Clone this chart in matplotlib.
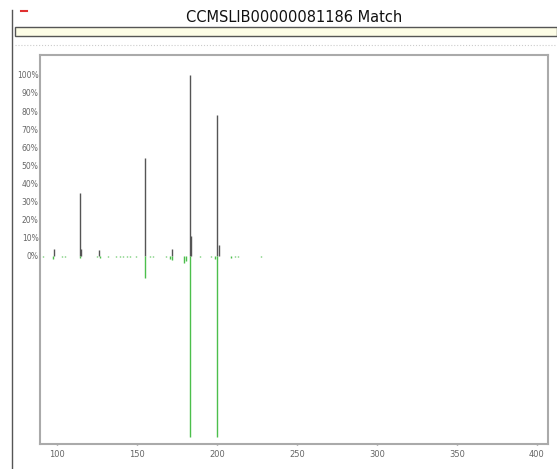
import numpy as np
import matplotlib
matplotlib.use("Agg")
import matplotlib.pyplot as plt
from matplotlib.patches import Rectangle
from matplotlib.lines import Line2D

title = "CCMSLIB00000081186 Match"

# top spectrum (query), m/z and relative intensity in %
top_mz = [98.1, 114.5, 115.0, 126.4, 155.1, 172.2, 183.4, 184.0, 200.2, 201.2]
top_int = [4, 34.5, 4, 3, 54, 3.7, 100, 11, 78, 6]

# bottom spectrum (library match), drawn downwards
bot_mz = [91.5, 97.7, 103.3, 105.0, 114.4, 125.1, 126.8, 132.0, 136.8,
          139.5, 141.4, 143.5, 145.7, 149.7, 155.1, 158.0, 160.1, 168.0,
          170.5, 172.2, 179.3, 180.5, 183.4, 189.2, 196.5, 199.0, 200.2,
          209.0, 211.0, 213.0, 227.7]
bot_int = [0.8, 2, 0.6, 0.6, 1.2, 0.8, 1.2, 0.6, 0.6,
           0.6, 0.6, 0.6, 0.6, 0.6, 12, 0.6, 0.6, 0.6,
           1.5, 2.5, 4, 3, 100, 0.6, 0.6, 1.5, 100,
           1, 0.8, 0.8, 0.8]

yticks = list(range(0, 101, 10))
xticks = [100, 150, 200, 250, 300, 350, 400]

W, H = 557, 469
fig = plt.figure(figsize=(W / 100, H / 100), dpi=100)

# page decorations
fig.add_artist(Line2D([12 / W, 12 / W], [0, 1 - 10 / H], color="#555555", lw=1))
fig.add_artist(Line2D([21 / W, 27 / W], [1 - 11 / H, 1 - 11 / H], color="#e03030", lw=1.5))
fig.text(294 / W, 1 - 18 / H, title, ha="center", va="center", fontsize=10.5,
         color="#111111", fontweight="medium")
fig.add_artist(Rectangle((15 / W, 1 - 36 / H), (W - 15) / W, 9 / H,
                         facecolor="#fdfde6", edgecolor="#555555", lw=1))
fig.add_artist(Line2D([15 / W, 1], [1 - 45 / H, 1 - 45 / H], color="#cccccc", lw=0.8, ls=":"))

ax = fig.add_axes([40 / W, 1 - 444 / H, 508 / W, 389 / H])
ax.vlines(top_mz, 0, top_int, color="#555555", lw=1)
ax.vlines(bot_mz, 0, [-v for v in bot_int], color="#4cbf4c", lw=1)

ax.set_xlim(89.4, 406.9)
ax.set_ylim(-104, 111)
ax.set_xticks(xticks)
ax.set_yticks(yticks)
ax.set_yticklabels([f"{t}%" for t in yticks])
ax.tick_params(axis="x", length=2, width=1, color="#777777", labelsize=6,
               labelcolor="#666666", pad=3, direction="inout")
ax.tick_params(axis="y", length=0, labelsize=5.5, labelcolor="#666666", pad=1)
for s in ax.spines.values():
    s.set_color("#aaaaaa")
    s.set_linewidth(1.5)

fig.savefig("out.png", dpi=100)
